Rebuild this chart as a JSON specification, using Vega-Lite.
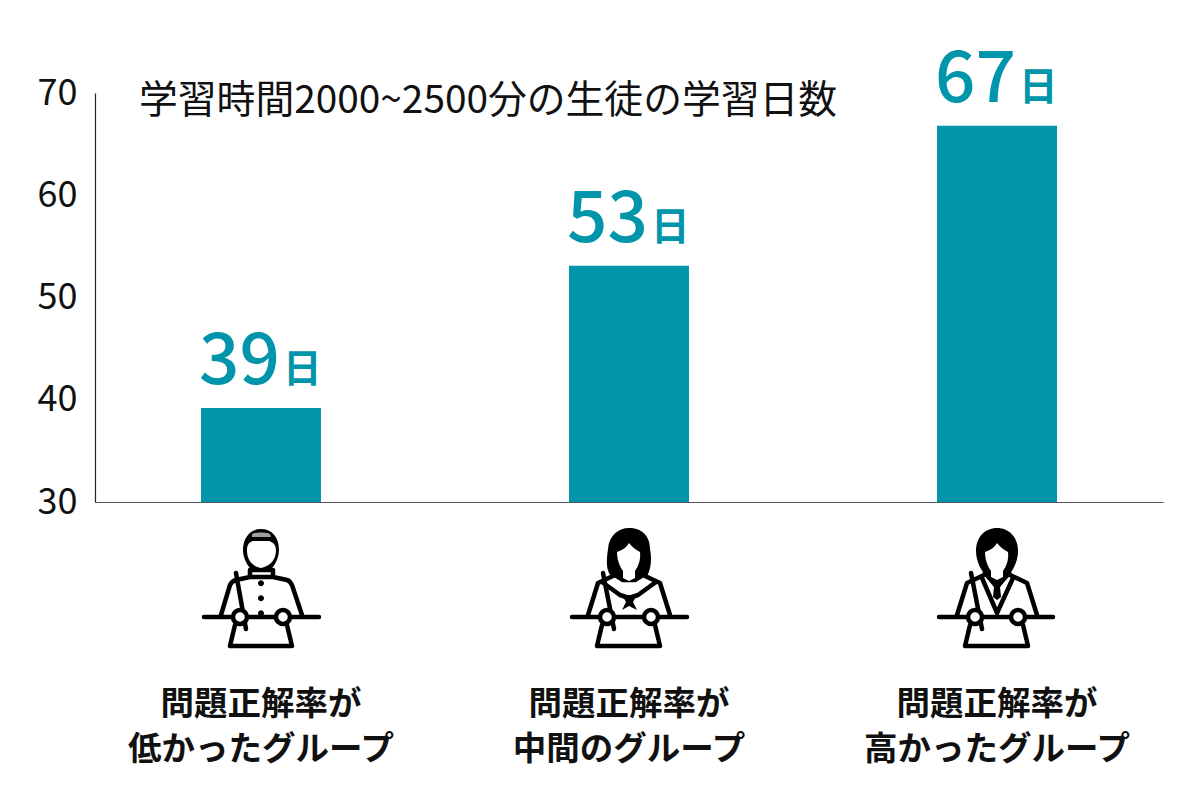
{
"$schema":"https://vega.github.io/schema/vega-lite/v6.json",
"width":1068,"height":409,
"autosize":{"type":"none"},
"padding":{"left":95,"top":93,"right":37,"bottom":308},
"background":"white",
"title":{"text":"学習時間2000~2500分の生徒の学習日数","anchor":"start","frame":"group","orient":"top","offset":-85,"dx":44,"dy":22,"baseline":"alphabetic","fontSize":38.8,"fontWeight":"normal","font":"Noto Sans CJK JP","color":"#111111"},
"data":{"values":[
{"group":"問題正解率が|低かったグループ","value":39.2,"label":"39"},
{"group":"問題正解率が|中間のグループ","value":53.1,"label":"53"},
{"group":"問題正解率が|高かったグループ","value":66.8,"label":"67"}
]},
"config":{"view":{"stroke":null},"font":"Noto Sans CJK JP"},
"resolve":{"scale":{"shape":"independent"}},
"encoding":{
"x":{"field":"group","type":"nominal","sort":null,"title":null,
"scale":{"paddingInner":0.674,"paddingOuter":0.288},
"axis":{"labelExpr":"split(datum.label,'|')","labelAngle":0,"labelFontSize":33.5,"labelFontWeight":"bold","labelColor":"#111111","labelLineHeight":45,"labelPadding":186,"labelBaseline":"top","labelLimit":400,"ticks":false,"domainColor":"#555555","domainWidth":1.2,"labelFont":"Noto Sans CJK JP"}}
},
"layer":[
{"mark":{"type":"bar","color":"#0095AB","clip":true},
"encoding":{"y":{"field":"value","type":"quantitative","title":null,"scale":{"domain":[30,70],"nice":false},
"axis":{"values":[30,40,50,60,70],"grid":false,"ticks":false,"labelFontSize":36,"labelColor":"#111111","labelPadding":18,"domainColor":"#222222","domainWidth":1.2,"labelFont":"Noto Sans CJK JP"}}}},
{"mark":{"type":"text","align":"right","baseline":"alphabetic","dx":19,"dy":-24,"fontSize":71,"fontWeight":500,"color":"#0095AB"},
"encoding":{"y":{"field":"value","type":"quantitative"},"text":{"field":"label"}}},
{"mark":{"type":"text","align":"left","baseline":"alphabetic","dx":22,"dy":-26,"fontSize":38.5,"fontWeight":"bold","color":"#0095AB","text":"日"},
"encoding":{"y":{"field":"value","type":"quantitative"}}},
{"mark":{"type":"point","filled":false,"stroke":"#000000","strokeWidth":4.5,"opacity":1,"size":40000,"yOffset":85,"strokeCap":"round","strokeJoin":"round"},
"encoding":{"y":{"datum":30},"shape":{"field":"group","type":"nominal","legend":null,"sort":null,"scale":{"domain":["問題正解率が|低かったグループ","問題正解率が|中間のグループ","問題正解率が|高かったグループ"],"range":[
"M-.4,.28 L-.31,-.02 Q-.29,-.06 -.25,-.07 L-.11,-.1 L-.11,-.17 L.12,-.17 L.12,-.1 L.26,-.07 Q.29,-.06 .31,-.02 L.41,.28 M-.11,-.1 L.12,-.1 M-.57,.3 L.58,.3 M-.25,-.14 L-.15,.42 M-.26,.38 L-.31,.59 L.31,.59 L.26,.38",
"M-.41,.28 L-.31,-.04 L-.14,-.12 M.14,-.12 L.31,-.04 L.41,.28 M-.27,-.05 L-.09,.08 L0,.11 L.09,.08 L.27,-.05 M-.14,-.12 L-.06,-.07 L.06,-.07 L.14,-.12 M-.57,.3 L.58,.3 M-.26,-.14 L-.15,.42 M-.27,.38 L-.32,.59 L.31,.59 L.26,.38",
"M-.4,.28 L-.3,-.04 L-.13,-.12 M.13,-.12 L.3,-.04 L.4,.28 M-.15,-.09 L0,.26 L.16,-.09 M-.12,-.14 L0,0 L.12,-.14 M-.58,.3 L.56,.3 M-.26,-.14 L-.15,.42 M-.27,.38 L-.32,.59 L.31,.59 L.26,.38"
]}}}},
{"mark":{"type":"point","filled":true,"fill":"#000000","opacity":1,"size":40000,"yOffset":85},
"encoding":{"y":{"datum":30},"shape":{"field":"group","type":"nominal","legend":null,"sort":null,"scale":{"domain":["問題正解率が|低かったグループ","問題正解率が|中間のグループ","問題正解率が|高かったグループ"],"range":[
"M-.18,-.37 C-.18,-.5 -.1,-.58 0,-.58 C.11,-.58 .18,-.5 .18,-.37 C.18,-.27 .12,-.19 .07,-.15 L-.07,-.15 C-.12,-.19 -.18,-.27 -.18,-.37 Z M-.03,-.037 A.03,.03 0 1,0 .03,-.037 A.03,.03 0 1,0 -.03,-.037 Z M-.03,.113 A.03,.03 0 1,0 .03,.113 A.03,.03 0 1,0 -.03,.113 Z M-.03,.263 A.03,.03 0 1,0 .03,.263 A.03,.03 0 1,0 -.03,.263 Z",
"M-.18,-.11 C-.24,-.18 -.22,-.3 -.21,-.38 C-.2,-.52 -.1,-.59 0,-.59 C.12,-.59 .21,-.52 .21,-.38 C.23,-.28 .22,-.18 .18,-.11 L0,-.08 Z M-.07,.08 L.08,.08 L.04,.15 L.08,.23 L0,.19 L-.07,.23 L-.03,.15 Z",
"M-.1,-.1 C-.16,-.16 -.21,-.26 -.21,-.36 C-.21,-.5 -.12,-.59 0,-.59 C.12,-.59 .21,-.5 .21,-.36 C.21,-.26 .16,-.16 .1,-.1 L0,-.05 Z M-.07,-.06 L.07,-.06 L.03,0 L.04,.1 L0,.13 L-.04,.1 L-.03,0 Z"
]}}}},
{"mark":{"type":"point","filled":true,"fill":"#ffffff","opacity":1,"size":40000,"yOffset":85},
"encoding":{"y":{"datum":30},"shape":{"field":"group","type":"nominal","legend":null,"sort":null,"scale":{"domain":["問題正解率が|低かったグループ","問題正解率が|中間のグループ","問題正解率が|高かったグループ"],"range":[
"M-.14,-.37 C-.14,-.42 -.12,-.45 -.08,-.46 L.08,-.46 C.12,-.45 .15,-.42 .15,-.37 C.15,-.28 .1,-.21 0,-.19 C-.1,-.21 -.14,-.28 -.14,-.37 Z",
"M-.12,-.35 C-.06,-.37 -.02,-.4 0,-.44 C.03,-.4 .07,-.37 .11,-.35 C.12,-.27 .09,-.2 .06,-.16 L.06,-.09 L0,-.06 L-.06,-.09 L-.06,-.16 C-.09,-.2 -.12,-.27 -.12,-.35 Z",
"M-.12,-.35 C-.06,-.37 -.02,-.4 0,-.44 C.03,-.4 .07,-.37 .11,-.35 C.12,-.27 .09,-.2 .06,-.16 L.06,-.1 L0,-.07 L-.06,-.1 L-.06,-.16 C-.09,-.2 -.12,-.27 -.12,-.35 Z"
]}}}},
{"transform":[{"filter":"indexof(datum.group,'低')>=0"}],
"mark":{"type":"point","filled":true,"fill":"#a0a0a0","opacity":1,"size":40000,"yOffset":85,"shape":"M-.09,-.53 C-.05,-.55 .05,-.55 .09,-.53 L.1,-.5 L-.09,-.5 Z"},
"encoding":{"y":{"datum":30}}},
{"mark":{"type":"point","filled":false,"stroke":"#000000","fill":"#ffffff","fillOpacity":1,"strokeWidth":4.5,"opacity":1,"size":40000,"yOffset":85},
"encoding":{"y":{"datum":30},"shape":{"field":"group","type":"nominal","legend":null,"sort":null,"scale":{"domain":["問題正解率が|低かったグループ","問題正解率が|中間のグループ","問題正解率が|高かったグループ"],"range":[
"M-.28,.3 A.07,.07 0 1,0 -.14,.3 A.07,.07 0 1,0 -.28,.3 Z M.15,.3 A.07,.07 0 1,0 .29,.3 A.07,.07 0 1,0 .15,.3 Z",
"M-.29,.3 A.07,.07 0 1,0 -.15,.3 A.07,.07 0 1,0 -.29,.3 Z M.15,.3 A.07,.07 0 1,0 .29,.3 A.07,.07 0 1,0 .15,.3 Z",
"M-.29,.3 A.07,.07 0 1,0 -.15,.3 A.07,.07 0 1,0 -.29,.3 Z M.14,.3 A.07,.07 0 1,0 .28,.3 A.07,.07 0 1,0 .14,.3 Z"
]}}}}
]
}
